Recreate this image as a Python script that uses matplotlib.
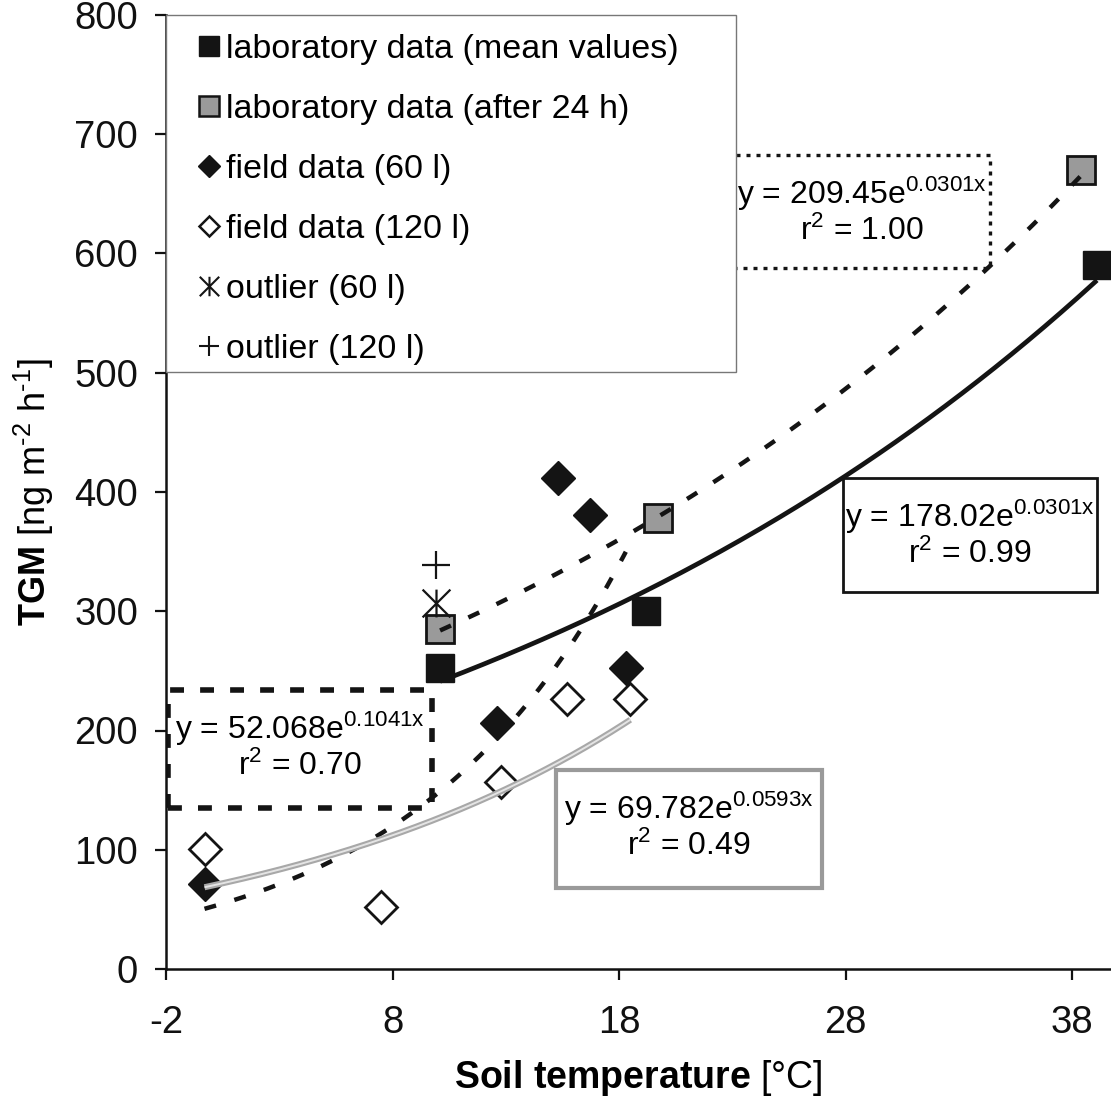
import numpy as np
import matplotlib
matplotlib.use("Agg")
import matplotlib.pyplot as plt
from matplotlib.path import Path
from matplotlib.lines import Line2D
from matplotlib.patches import Rectangle

plt.rcParams['font.family'] = ['Liberation Sans', 'DejaVu Sans']
plt.rcParams['mathtext.fontset'] = 'custom'
plt.rcParams['mathtext.rm'] = 'Liberation Sans'
plt.rcParams['mathtext.it'] = 'Liberation Sans:italic'
plt.rcParams['mathtext.bf'] = 'Liberation Sans:bold'
plt.rcParams['axes.unicode_minus'] = False

# ---------------- data ----------------
lab_mean_x = [10.1, 19.2, 39.1]
lab_mean_y = [252, 300, 590]
lab24_x = [10.1, 19.7, 38.4]
lab24_y = [285, 378, 670]
field60_x = [-0.3, 12.6, 15.3, 16.7, 18.3]
field60_y = [71, 206, 412, 381, 252]
field120_x = [-0.3, 7.5, 12.8, 15.7, 18.5]
field120_y = [101, 52, 157, 226, 226]
outlier60_x = [9.9]
outlier60_y = [307]
outlier120_x = [9.9]
outlier120_y = [339]

# exponential fits  y = a * exp(b x), r^2
fit_lab_mean = ('178.02', 0.0301, 0.99)
fit_lab24 = ('209.45', 0.0301, 1.00)
fit_field60 = ('52.068', 0.1041, 0.70)
fit_field120 = ('69.782', 0.0593, 0.49)

x_ticks = [-2, 8, 18, 28, 38]
y_ticks = [0, 100, 200, 300, 400, 500, 600, 700, 800]

labels = ['laboratory data (mean values)', 'laboratory data (after 24 h)',
          'field data (60 l)', 'field data (120 l)', 'outlier (60 l)', 'outlier (120 l)']

# ---------------- figure ----------------
W = 1111
fig = plt.figure(figsize=(11.11, 11.11), dpi=100)
ax = fig.add_axes([166 / W, (W - 969) / W, (W - 166) / W, (969 - 15) / W])
ax.set_xlim(-2, 39.72)
ax.set_ylim(0, 800)

for s in ['top', 'right']:
    ax.spines[s].set_visible(False)
for s in ['left', 'bottom']:
    ax.spines[s].set_linewidth(1.8)
    ax.spines[s].set_color('#111111')

ax.set_xticks(x_ticks)
ax.set_yticks(y_ticks)
ax.tick_params(axis='both', direction='out', length=8, width=1.6, labelsize=27.5, colors='#111111')
ax.tick_params(axis='x', pad=18)
ax.tick_params(axis='y', pad=12)

ax.set_xlabel(r'$\mathbf{Soil\ temperature}$ [°C]', fontsize=27, labelpad=12)
ax.set_ylabel('$\\mathbf{TGM}$ [ng m$^{\\mathrm{\u2010}\\mathrm{2}}$ h$^{\\mathrm{\u2010}\\mathrm{1}}$]',
              fontsize=26, labelpad=13)

# asterisk marker (X with vertical bar)
ast = Path([(-1, -1), (1, 1), (-1, 1), (1, -1), (0, -1), (0, 1)],
           [Path.MOVETO, Path.LINETO, Path.MOVETO, Path.LINETO, Path.MOVETO, Path.LINETO])

dark = '#141414'
# markers
ax.plot(lab_mean_x, lab_mean_y, ls='none', marker='s', ms=20, mfc=dark, mec=dark, mew=1, zorder=2)
ax.plot(lab24_x, lab24_y, ls='none', marker='s', ms=20, mfc='#9a9a9a', mec=dark, mew=2, zorder=2)
ax.plot(field60_x, field60_y, ls='none', marker='D', ms=17.5, mfc=dark, mec=dark, mew=1, zorder=2)
ax.plot(field120_x, field120_y, ls='none', marker='D', ms=16.5, mfc='white', mec=dark, mew=2, zorder=2)
ax.plot(outlier60_x, outlier60_y, ls='none', marker=ast, ms=20, mec=dark, mew=1.6, zorder=2)
ax.plot(outlier120_x, outlier120_y, ls='none', marker='+', ms=20, mec=dark, mew=1.6, zorder=2)

# trend lines
def curve(xs, fit):
    xx = np.linspace(min(xs), max(xs), 200)
    return xx, float(fit[0]) * np.exp(fit[1] * xx)

xx, yy = curve(lab_mean_x, fit_lab_mean)
ax.plot(xx, yy, color=dark, lw=3.4, zorder=3, solid_capstyle='butt')
xx, yy = curve(lab24_x, fit_lab24)
ax.plot(xx, yy, color=dark, lw=3.2, dashes=(2.7, 4.3), zorder=3)
xx, yy = curve(field60_x, fit_field60)
ax.plot(xx, yy, color=dark, lw=3.2, dashes=(2.7, 4.3), zorder=3)
xx, yy = curve(field120_x, fit_field120)
ax.plot(xx, yy, color='#a8a8a8', lw=4.4, zorder=3, solid_capstyle='butt')
ax.plot(xx, yy, color='#e4e4e4', lw=1.4, zorder=3.1, solid_capstyle='butt')

# equation boxes: (x0, x1, y_bottom, y_top)
def eq_box(x0, x1, yb, yt, fit, ls, lw, ec):
    r = Rectangle((x0, yb), x1 - x0, yt - yb, facecolor='white', edgecolor=ec,
                  lw=lw, linestyle=ls, zorder=2.5)
    ax.add_patch(r)
    xc = (x0 + x1) / 2
    ax.text(xc, yt - 49 / 1.1925, r'y = %se$^{\mathrm{%.4fx}}$' % (fit[0], fit[1]),
            ha='center', va='baseline', fontsize=23, zorder=4)
    ax.text(xc, yt - 85 / 1.1925, r'r$^{\mathrm{2}}$ = %.2f' % fit[2],
            ha='center', va='baseline', fontsize=23, zorder=4)

eq_box(23.03, 34.38, 587.8, 682.6, fit_lab24, (0, (1.2, 1.8)), 2.4, dark)
eq_box(27.89, 39.1, 316.1, 411.7, fit_lab_mean, '-', 2.0, dark)
eq_box(-1.91, 9.74, 135, 234, fit_field60, (0, (2.5, 2.9)), 4.0, dark)
eq_box(15.22, 26.96, 67.9, 166.9, fit_field120, '-', 3.0, '#9a9a9a')

# legend frame
frame = Rectangle((0, (969 - 372) / 954), (736 - 166) / 945, (372 - 15) / 954,
                  transform=ax.transAxes, facecolor='white', edgecolor='#777777', lw=1.0,
                  zorder=4, clip_on=False)
ax.add_patch(frame)

handles = [
    Line2D([], [], ls='none', marker='s', ms=15, mfc=dark, mec=dark, mew=1),
    Line2D([], [], ls='none', marker='s', ms=15, mfc='#9a9a9a', mec=dark, mew=1.8),
    Line2D([], [], ls='none', marker='D', ms=11, mfc=dark, mec=dark, mew=1),
    Line2D([], [], ls='none', marker='D', ms=10.5, mfc='white', mec=dark, mew=1.8),
    Line2D([], [], ls='none', marker=ast, ms=14, mec=dark, mew=1.5),
    Line2D([], [], ls='none', marker='+', ms=15, mec=dark, mew=1.5),
]
leg = ax.legend(handles, labels, loc='upper left', bbox_to_anchor=(0.033, 0.98),
                frameon=False, fontsize=24.5, borderpad=0, borderaxespad=0,
                handlelength=0.7, handletextpad=0.15, labelspacing=0.85)
leg.set_zorder(5)

fig.savefig('out.png', dpi=100)
